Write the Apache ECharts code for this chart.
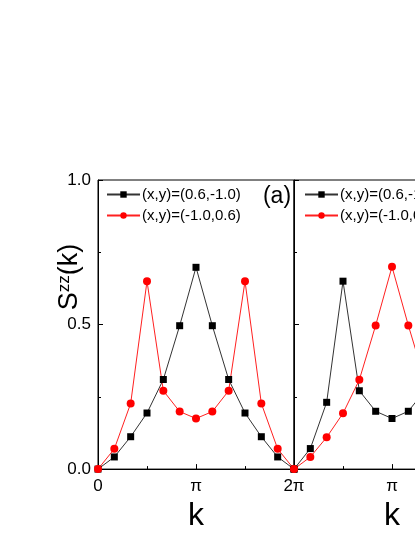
<!DOCTYPE html>
<html>
<head>
<meta charset="utf-8">
<script src="https://cdn.jsdelivr.net/npm/echarts@6/dist/echarts.min.js"></script>
<style>
    html, body { margin: 0; padding: 0; overflow: hidden; background: #fff; }
    #chart { width: 560px; height: 537px; }
</style>
</head>
<body>
<div id="chart"></div>
<script>
// k in units of pi
const kPi = [0, 1/6, 2/6, 3/6, 4/6, 5/6, 1, 7/6, 8/6, 9/6, 10/6, 11/6, 2];
const legendA = '(x,y)=(0.6,-1.0)';
const legendB = '(x,y)=(-1.0,0.6)';
// panel (a)
const blackA = [0, 0.042, 0.112, 0.194, 0.31, 0.496, 0.698, 0.496, 0.31, 0.194, 0.112, 0.042, 0];
const redA = [0, 0.07, 0.227, 0.65, 0.271, 0.199, 0.175, 0.199, 0.271, 0.65, 0.227, 0.07, 0];
// panel (b)
const blackB = [0, 0.071, 0.231, 0.65, 0.271, 0.2, 0.175, 0.2, 0.271, 0.65, 0.231, 0.071, 0];
const redB = [0, 0.042, 0.11, 0.193, 0.309, 0.497, 0.7, 0.497, 0.309, 0.193, 0.11, 0.042, 0];

const font = 'Liberation Sans, Arial, sans-serif';

function pairs(ys) {
    return kPi.map((k, i) => [k, ys[i]]);
}

function xAxis(idx, showZero) {
    return {
        type: 'value', gridIndex: idx, min: 0, max: 2, interval: 1,
        name: 'k', nameLocation: 'middle', nameGap: 15,
        nameTextStyle: { fontSize: 32, color: '#000', fontFamily: font },
        axisLine: { lineStyle: { color: '#000', width: 1 } },
        axisTick: { inside: true, length: 5, lineStyle: { color: '#000' } },
        minorTick: { show: true, splitNumber: 2, length: 3, lineStyle: { color: '#000' } },
        splitLine: { show: false },
        axisLabel: {
            fontSize: 17, color: '#000', fontFamily: font, margin: 9,
            formatter: v => {
                if (v === 0) return showZero ? '0' : '';
                if (v === 1) return 'π';
                return '2π';
            }
        }
    };
}

function yAxis(idx, showLabels) {
    return {
        type: 'value', gridIndex: idx, min: 0, max: 1, interval: 0.5,
        axisLine: { lineStyle: { color: '#000', width: 1 } },
        axisTick: { inside: true, length: 5, lineStyle: { color: '#000' } },
        minorTick: { show: true, splitNumber: 2, length: 3, lineStyle: { color: '#000' } },
        splitLine: { show: false },
        axisLabel: {
            show: showLabels, fontSize: 17, color: '#000', fontFamily: font, margin: 7,
            formatter: v => v.toFixed(1)
        }
    };
}

function series(name, ys, idx, color, lineColor, symbol, size) {
    return {
        name: name, type: 'line', xAxisIndex: idx, yAxisIndex: idx,
        data: pairs(ys), symbol: symbol, symbolSize: size,
        showAllSymbol: true, animation: false,
        lineStyle: { color: lineColor, width: 1 },
        itemStyle: { color: color }
    };
}

function legend(left) {
    return {
        orient: 'vertical', left: left, top: 182,
        itemWidth: 33, itemHeight: 8, itemGap: 6,
        textStyle: { fontSize: 15, color: '#000', fontFamily: font, padding: [0, 0, 0, -3] },
        selectedMode: false
    };
}

const chart = echarts.init(document.getElementById('chart'));
const option = {
    animation: false,
    grid: [
        { left: 98, top: 180, width: 196, height: 292, show: true, borderColor: '#000', borderWidth: 1 },
        { left: 294, top: 180, width: 196, height: 292, show: true, borderColor: '#000', borderWidth: 1 }
    ],
    legend: [
        { ...legend(101), data: ['a0', 'a1'], formatter: n => (n === 'a0' ? legendA : legendB) },
        { ...legend(299), data: ['b0', 'b1'], formatter: n => (n === 'b0' ? legendA : legendB) }
    ],
    xAxis: [xAxis(0, true), xAxis(1, false)],
    yAxis: [yAxis(0, true), yAxis(1, false)],
    series: [
        series('a0', blackA, 0, '#000', '#333', 'rect', 7),
        series('a1', redA, 0, '#ff0000', '#ff2020', 'circle', 8),
        series('b0', blackB, 1, '#000', '#333', 'rect', 7),
        series('b1', redB, 1, '#ff0000', '#ff2020', 'circle', 8)
    ],
    graphic: [
        {
            type: 'text', x: 70, y: 277, rotation: Math.PI / 2,
            style: {
                text: '{m|S}{s|zz}{m|(k)}',
                align: 'center', verticalAlign: 'middle',
                rich: {
                    m: { fontSize: 27, fontFamily: font, fill: '#000' },
                    s: { fontSize: 17, fontFamily: font, fill: '#000', verticalAlign: 'top', padding: [0, 0, 12, 0] }
                }
            }
        },
        { type: 'text', x: 277, y: 197, style: { text: '(a)', fontSize: 23, fontFamily: font, fill: '#000', align: 'center', verticalAlign: 'middle' } },
        { type: 'text', x: 473, y: 197, style: { text: '(b)', fontSize: 23, fontFamily: font, fill: '#000', align: 'center', verticalAlign: 'middle' } }
    ]
};
chart.setOption(option);
</script>
</body>
</html>
